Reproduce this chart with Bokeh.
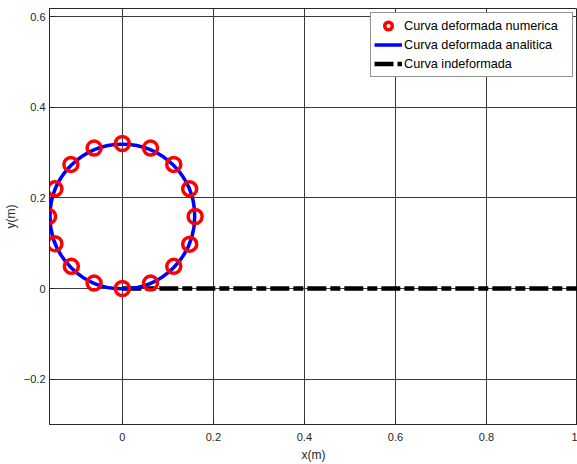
from bokeh.plotting import figure
from bokeh.models import FixedTicker, Legend, LegendItem, Range1d
from bokeh.embed import file_html
from bokeh.resources import INLINE

# numeric deformed curve (points)
x_num = [0.000, 0.062, 0.113, 0.148, 0.160, 0.148, 0.113, 0.062, 0.000,
         -0.062, -0.113, -0.148, -0.162, -0.148, -0.112, -0.062]
y_num = [0.000, 0.012, 0.049, 0.098, 0.159, 0.220, 0.274, 0.310, 0.320,
         0.310, 0.274, 0.220, 0.159, 0.099, 0.049, 0.012]
# analytic deformed curve: circle centre and radius
circ_x = [0.0]
circ_y = [0.159]
circ_r = [0.159]
# undeformed curve
x_und = [0.0, 1.0]
y_und = [0.0, 0.0]

x_ticks = [0, 0.2, 0.4, 0.6, 0.8, 1.0]
y_ticks = [-0.2, 0, 0.2, 0.4, 0.6]

FONT = "Liberation Sans"
TXT = "#262626"

p = figure(width=577, height=464, output_backend="svg", toolbar_location=None,
           x_range=Range1d(-0.16, 1.0), y_range=Range1d(-0.30, 0.618),
           min_border_left=0, min_border_right=0, min_border_top=8, min_border_bottom=0)

p.background_fill_color = "white"
p.border_fill_color = "white"
p.outline_line_color = "#262626"
p.outline_line_width = 1

for ax in (p.xaxis[0], p.yaxis[0]):
    ax.major_tick_out = 0
    ax.major_tick_in = 5
    ax.minor_tick_out = 0
    ax.minor_tick_in = 0
    ax.axis_line_color = "#262626"
    ax.major_tick_line_color = "#262626"
    ax.major_label_text_font = FONT
    ax.major_label_text_font_size = "11px"
    ax.major_label_text_color = TXT
    ax.axis_label_text_font = FONT
    ax.axis_label_text_font_size = "12px"
    ax.axis_label_text_font_style = "normal"
    ax.axis_label_text_color = TXT

p.xaxis.ticker = FixedTicker(ticks=x_ticks)
p.yaxis.ticker = FixedTicker(ticks=y_ticks)
p.xaxis.axis_label = "x(m)"
p.yaxis.axis_label = "y(m)"
p.xaxis.major_label_standoff = 8
p.yaxis.major_label_standoff = 4
p.xaxis.axis_label_standoff = 4
p.yaxis.axis_label_standoff = 3

p.xgrid.ticker = FixedTicker(ticks=x_ticks)
p.ygrid.ticker = FixedTicker(ticks=y_ticks)
p.xgrid.grid_line_color = "#3a3a3a"
p.ygrid.grid_line_color = "#3a3a3a"
p.xgrid.grid_line_width = 1
p.ygrid.grid_line_width = 1

r_und = p.line(x_und, y_und, line_color="black", line_width=4.5,
               line_dash="19 4 10 4")
r_circ = p.circle(x=circ_x, y=circ_y, radius=circ_r, fill_alpha=0,
                  line_color="#0000ff", line_width=3.5)
r_num = p.scatter(x_num, y_num, marker="circle", size=14, fill_alpha=0,
                  line_color="#ff0000", line_width=3.5)
# single-point line used only as the legend glyph of the analytic curve
r_leg_line = p.line(circ_x, circ_y, line_color="#0000ff", line_width=3.5)

legend = Legend(items=[
    LegendItem(label="Curva deformada numerica", renderers=[r_num]),
    LegendItem(label="Curva deformada analitica", renderers=[r_leg_line]),
    LegendItem(label="Curva indeformada", renderers=[r_und]),
], location="top_right")
legend.label_text_font = FONT
legend.label_text_font_size = "12.7px"
legend.label_text_color = "black"
legend.border_line_color = "#262626"
legend.border_line_width = 1
legend.background_fill_alpha = 1
legend.margin = 4
legend.padding = 3
legend.spacing = 0
legend.label_height = 19
legend.label_width = 165
legend.glyph_height = 19
legend.glyph_width = 28
legend.label_standoff = 2
p.add_layout(legend)

open("out.html", "w").write(file_html(p, INLINE))
